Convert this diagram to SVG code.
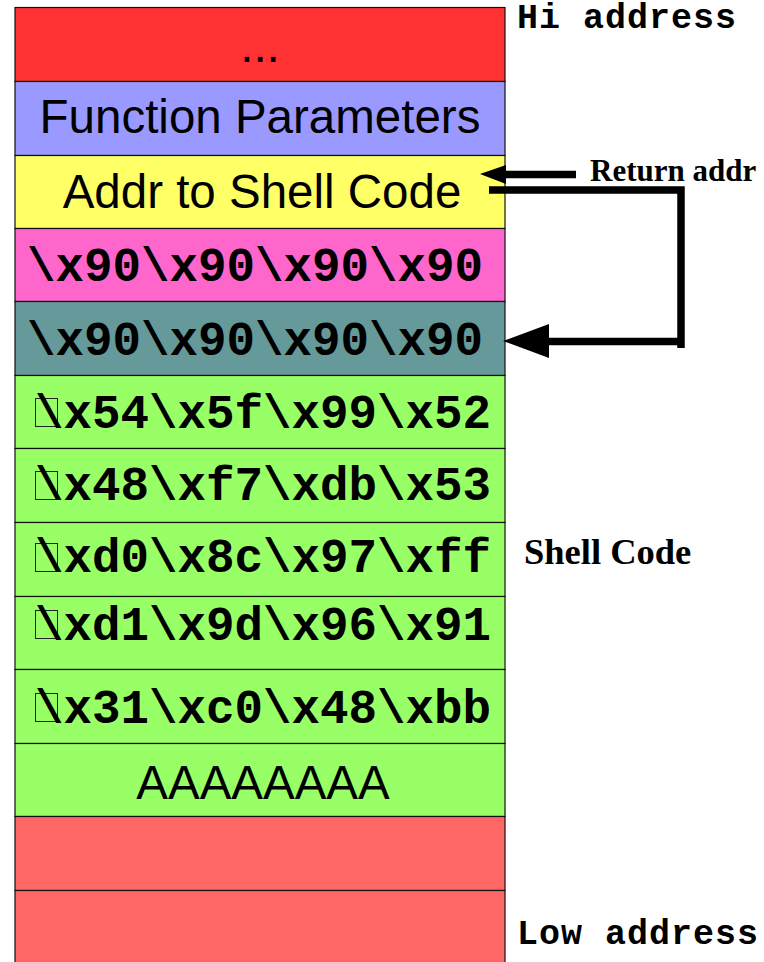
<svg xmlns="http://www.w3.org/2000/svg" width="764" height="962" viewBox="0 0 764 962">
<style>
.cell{stroke:#111;stroke-width:1.2}
.sans{font-family:"Liberation Sans",Arial,sans-serif;font-size:47.5px;fill:#000}
.mono{font-family:"Liberation Mono","Courier New",monospace;font-weight:bold;font-size:47.5px;fill:#000}
.addr{font-family:"Liberation Mono","Courier New",monospace;font-weight:bold;font-size:35px;letter-spacing:1px;fill:#000}
.serif{font-family:"Liberation Serif","Times New Roman",serif;font-weight:bold;fill:#000}
.tofu{fill:none;stroke:#222;stroke-width:1}
.wire{fill:none;stroke:#000;stroke-width:7.5}
</style>
<rect width="764" height="962" fill="#fff"/>
<g id="row-dots"><rect class="cell" x="15" y="7.5" width="490" height="74" fill="#ff3333"/><text class="sans" x="260" y="62" text-anchor="middle">...</text></g>
<g id="row-params"><rect class="cell" x="15" y="81.5" width="490" height="74" fill="#9999ff"/><text class="sans" x="260" y="133" text-anchor="middle">Function Parameters</text></g>
<g id="row-addr"><rect class="cell" x="15" y="155.5" width="490" height="73" fill="#ffff66"/><text class="sans" x="262" y="208" text-anchor="middle">Addr to Shell Code</text></g>
<g id="row-nop1"><rect class="cell" x="15" y="228.5" width="490" height="73" fill="#ff66cc"/><text class="mono" x="27" y="281">\x90\x90\x90\x90</text></g>
<g id="row-nop2"><rect class="cell" x="15" y="301.5" width="490" height="74" fill="#669999"/><text class="mono" x="27" y="355">\x90\x90\x90\x90</text></g>
<g id="row-sc1"><rect class="cell" x="15" y="375.5" width="490" height="73" fill="#99ff66"/><rect class="tofu" x="35.5" y="398.5" width="22" height="28"/><text class="mono" x="35" y="428">\x54\x5f\x99\x52</text></g>
<g id="row-sc2"><rect class="cell" x="15" y="448.5" width="490" height="74" fill="#99ff66"/><rect class="tofu" x="35.5" y="471.5" width="22" height="28"/><text class="mono" x="35" y="500">\x48\xf7\xdb\x53</text></g>
<g id="row-sc3"><rect class="cell" x="15" y="522.5" width="490" height="74" fill="#99ff66"/><rect class="tofu" x="35.5" y="543.5" width="22" height="28"/><text class="mono" x="35" y="572">\xd0\x8c\x97\xff</text></g>
<g id="row-sc4"><rect class="cell" x="15" y="596.5" width="490" height="73" fill="#99ff66"/><rect class="tofu" x="35.5" y="610.5" width="22" height="28"/><text class="mono" x="35" y="640">\xd1\x9d\x96\x91</text></g>
<g id="row-sc5"><rect class="cell" x="15" y="669.5" width="490" height="74" fill="#99ff66"/><rect class="tofu" x="35.5" y="693.5" width="22" height="28"/><text class="mono" x="35" y="723">\x31\xc0\x48\xbb</text></g>
<g id="row-pad"><rect class="cell" x="15" y="743.5" width="490" height="73" fill="#99ff66"/><text class="sans" x="263" y="799" text-anchor="middle">AAAAAAAA</text></g>
<g id="row-low1"><rect class="cell" x="15" y="816.5" width="490" height="74" fill="#ff6666"/></g>
<g id="row-low2"><rect class="cell" x="15" y="890.5" width="490" height="74" fill="#ff6666"/></g>
<g id="labels">
<text class="addr" x="517" y="28">Hi address</text>
<text class="addr" x="517" y="944">Low address</text>
<text class="serif" x="590" y="181" font-size="31">Return addr</text>
<text class="serif" x="524" y="564" font-size="36.5">Shell Code</text>
</g>
<g id="connectors">
<line class="wire" x1="576" y1="174.5" x2="500" y2="174.5"/>
<polygon points="480,174 506,165 506,184" fill="#000"/>
<polyline class="wire" points="489,190 681,190 681,348"/>
<line class="wire" x1="684" y1="341.5" x2="540" y2="341.5"/>
<polygon points="503,341 549,324 549,358" fill="#000"/>
</g>
</svg>
